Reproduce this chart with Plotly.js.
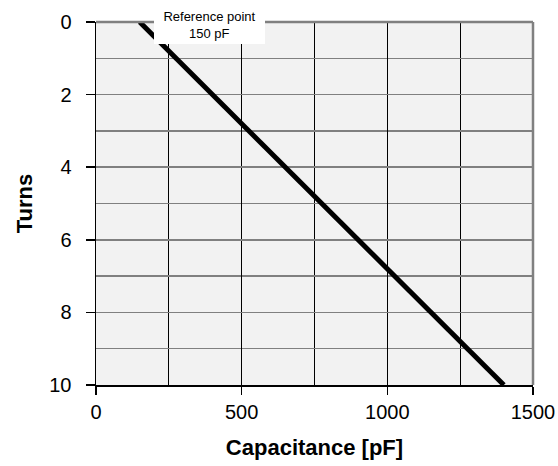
<!DOCTYPE html>
<html>
<head>
<meta charset="utf-8">
<script src="https://cdn.plot.ly/plotly-3.0.1.min.js"></script>
<style>html,body{margin:0;padding:0;background:#fff;}#chart{width:558px;height:466px;}</style>
</head>
<body>
<div id="chart"></div>
<script>
// Data
const capacitance = [150, 1400];   // pF
const turns = [0, 10];
const xTickVals = [0, 500, 1000, 1500];
const yTickVals = [0, 2, 4, 6, 8, 10];
const annotationText = 'Reference point<br>150 pF';
const xTitle = 'Capacitance [pF]';
const yTitle = 'Turns';

const FONT = 'Liberation Sans, Arial, Helvetica, sans-serif';

const trace = {
  x: capacitance,
  y: turns,
  type: 'scatter',
  mode: 'lines',
  line: {color: '#000', width: 5},
  hoverinfo: 'skip',
  showlegend: false
};

const layout = {
  width: 558,
  height: 466,
  margin: {l: 96, r: 25, t: 22, b: 81},
  paper_bgcolor: '#ffffff',
  plot_bgcolor: '#f2f2f2',
  font: {family: FONT, color: '#000', size: 20},
  showlegend: false,
  xaxis: {
    range: [0, 1500],
    tickvals: xTickVals,
    ticktext: xTickVals.map(String),
    ticks: 'outside',
    ticklen: 8,
    tickwidth: 1.5,
    tickcolor: '#000',
    showline: true,
    linecolor: '#000',
    linewidth: 1.5,
    showgrid: true,
    gridcolor: '#000',
    gridwidth: 1,
    minor: {dtick: 250, tick0: 0, showgrid: true, gridcolor: '#000', gridwidth: 1, ticks: ''},
    zeroline: false,
    tickfont: {family: FONT, size: 20, color: '#000'},
    title: {text: '<b>' + xTitle + '</b>', font: {family: FONT, size: 22, color: '#000'}, standoff: 18}
  },
  yaxis: {
    range: [10, 0],
    tickvals: yTickVals,
    ticktext: yTickVals.map(String),
    ticks: 'outside',
    ticklen: 9,
    tickwidth: 1.5,
    tickcolor: '#000',
    ticklabelstandoff: 10,
    showline: true,
    linecolor: '#000',
    linewidth: 1.5,
    showgrid: true,
    gridcolor: '#808080',
    gridwidth: 1.5,
    minor: {dtick: 1, tick0: 0, showgrid: true, gridcolor: '#808080', gridwidth: 1.5, ticks: ''},
    zeroline: false,
    tickfont: {family: FONT, size: 20, color: '#000'},
    title: {text: '<b>' + yTitle + '</b>', font: {family: FONT, size: 22, color: '#000'}, standoff: 10}
  },
  shapes: [
    {type: 'line', xref: 'paper', yref: 'paper', x0: 0, x1: 1, y0: 1, y1: 1, line: {color: '#808080', width: 2.5}},
    {type: 'line', xref: 'paper', yref: 'paper', x0: 1, x1: 1, y0: 0, y1: 1, line: {color: '#808080', width: 2.5}}
  ],
  annotations: [{
    x: 390, xref: 'x',
    y: 0.992, yref: 'paper',
    xanchor: 'center', yanchor: 'middle',
    text: annotationText,
    showarrow: false,
    align: 'center',
    bgcolor: '#ffffff',
    borderwidth: 0,
    borderpad: 3,
    width: 105,
    font: {family: FONT, size: 13, color: '#000'}
  }]
};

Plotly.newPlot('chart', [trace], layout, {displayModeBar: false, staticPlot: true});
</script>
</body>
</html>
